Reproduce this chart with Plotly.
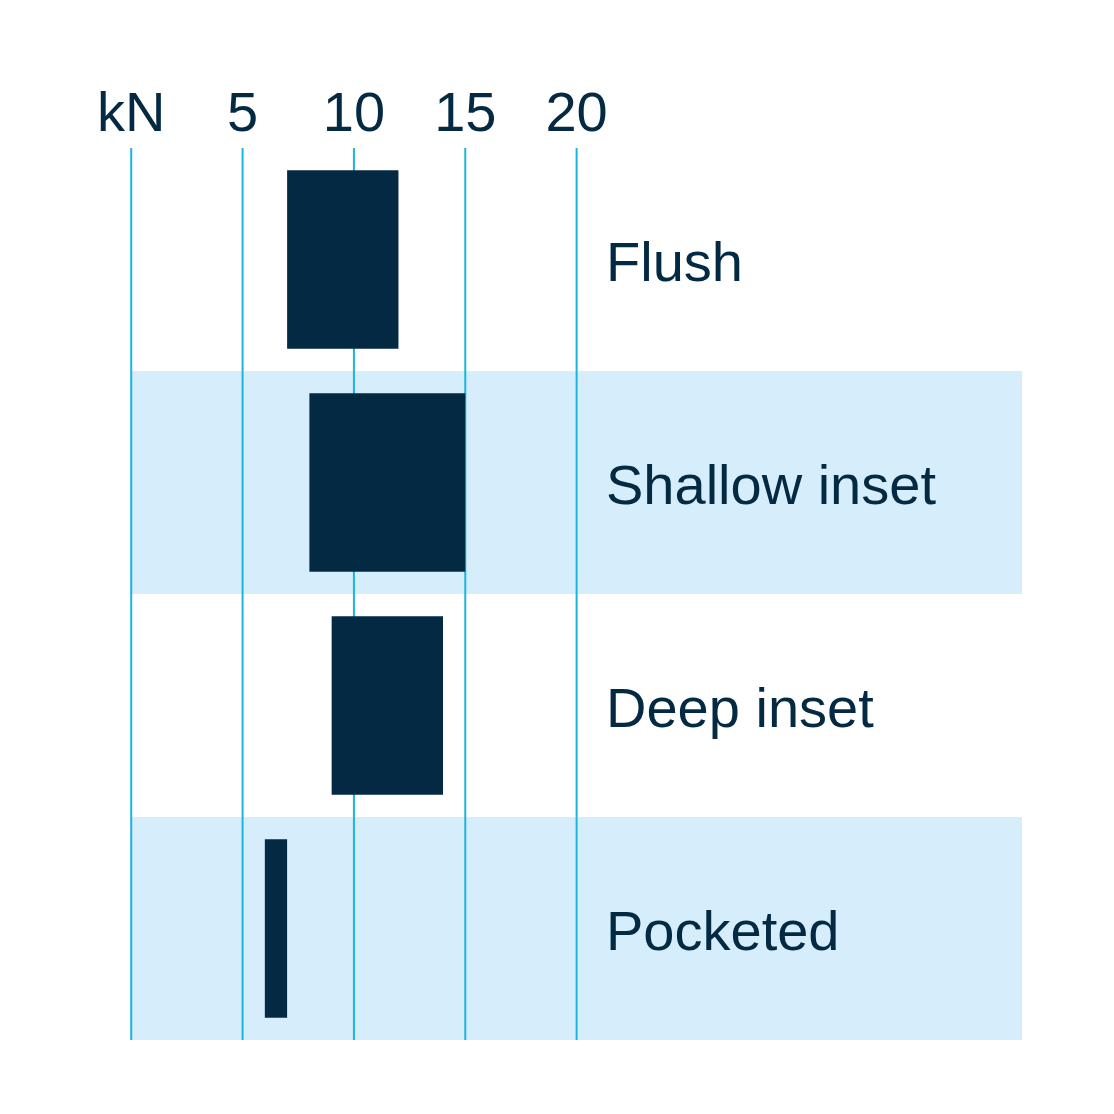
import plotly.graph_objects as go

# Load ranges per mounting type (kN)
mountings = ["Flush", "Shallow inset", "Deep inset", "Pocketed"]
load_min = [7, 8, 9, 6]
load_max = [12, 15, 14, 7]

tick_vals = [0, 5, 10, 15, 20]
tick_text = ["kN", "5", "10", "15", "20"]

bar_color = "#032a42"
line_color = "#1bb5dc"
band_color = "#d6eefc"
font_family = "Liberation Sans, Arial, sans-serif"

fig = go.Figure()

fig.add_trace(go.Bar(
    y=mountings,
    x=[hi - lo for lo, hi in zip(load_min, load_max)],
    base=load_min,
    orientation="h",
    width=0.8,
    marker=dict(color=bar_color, line=dict(width=0)),
    hoverinfo="skip",
    showlegend=False,
))

# shaded bands on alternating rows
for i, m in enumerate(mountings):
    if i % 2 == 1:
        fig.add_shape(type="rect", xref="x", yref="y",
                      x0=0, x1=40, y0=i - 0.5, y1=i + 0.5,
                      fillcolor=band_color, line_width=0, layer="below")

# vertical scale lines (after bands, still under the bars)
for v in tick_vals:
    fig.add_shape(type="line", xref="x", yref="y",
                  x0=v, x1=v, y0=-0.5, y1=len(mountings) - 0.5,
                  line=dict(color=line_color, width=2), layer="below")

for m in mountings:
    fig.add_annotation(x=21.24, y=m, text=m, showarrow=False,
                       xanchor="left", yanchor="middle", yshift=-2,
                       font=dict(size=56, color=bar_color, family=font_family))

fig.update_xaxes(range=[-0.1, 40], side="top", showgrid=False, zeroline=False,
                 showline=False,
                 tickvals=tick_vals, ticktext=tick_text, ticks="",
                 ticklabelstandoff=5,
                 tickfont=dict(size=56, color=bar_color, family=font_family))
fig.update_yaxes(range=[3.5, -0.5], showgrid=False, zeroline=False,
                 showline=False, showticklabels=False, ticks="")

fig.update_layout(
    width=1114, height=1114,
    margin=dict(l=121, r=100, t=140, b=82),
    plot_bgcolor="white", paper_bgcolor="white",
    bargap=0.2,
)

fig.write_html("out.html")
